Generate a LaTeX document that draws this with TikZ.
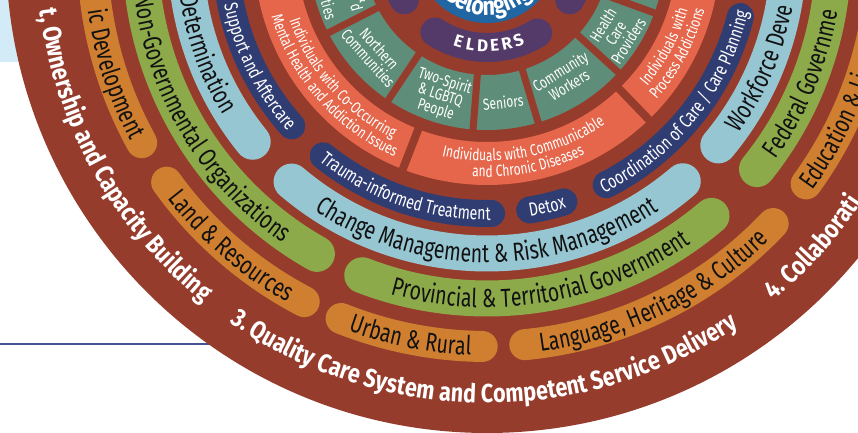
\documentclass[tikz,border=0pt]{standalone}
\usepackage{fontspec}
\usetikzlibrary{calc,decorations.text}
\newfontfamily\pillfam[FakeStretch=0.75]{Fira Sans}
\newfontfamily\headfam[FakeStretch=0.83]{Fira Sans}
\newfontfamily\plainfam{Fira Sans}
\newcommand\PillF{\pillfam\fontsize{26}{26}\selectfont}
\newcommand\NavyF{\pillfam\fontsize{19}{19}\selectfont}
\newcommand\SmallF{\pillfam\fontsize{16}{16}\selectfont}
\newcommand\OuterF{\headfam\bfseries\fontsize{26}{26}\selectfont}
\newcommand\BelongF{\headfam\bfseries\fontsize{26}{26}\selectfont}
\definecolor{ring}{HTML}{963C2C}
\definecolor{ochre}{HTML}{CF7F2F}
\definecolor{olive}{HTML}{8DAA4A}
\definecolor{sky}{HTML}{97C6D3}
\definecolor{navy}{HTML}{2F3D73}
\definecolor{coral}{HTML}{E5664A}
\definecolor{sage}{HTML}{5E8D79}
\definecolor{plum}{HTML}{533A68}
\definecolor{core}{HTML}{1F66A3}
\definecolor{skyband}{HTML}{D3EBF7}
\definecolor{rule}{HTML}{44528E}
\definecolor{ink}{HTML}{111111}
% rounded band segment: colour, width, radius, start angle, end angle
\newcommand\PillArc[5]{\draw[draw=#1,line width=#2,line cap=round]
  ($(C)+(#4:#3)$) arc[start angle=#4,end angle=#5,radius=#3];}
% text set along a circular arc: align, colour, font, radius, from, to, text
\newcommand\ArcTxt[7]{\path[decorate,decoration={text along path,
  text align=#1,text color=#2,text={|#3|#7}}]
  ($(C)+(#5:#4)$) arc[start angle=#5,end angle=#6,radius=#4];}
% radial separator between sectors
\newcommand\Sep[4]{\draw[draw=ring,line width=#4]
  ($(C)+(#1:#2)$) -- ($(C)+(#1:#3)$);}
\begin{document}
\begin{tikzpicture}[x=1pt,y=1pt,
  sagetxt/.style={text=white,font=\pillfam\fontsize{16}{15}\selectfont,
    align=center,inner sep=0pt},
  eldtxt/.style={text=white,font=\plainfam\bfseries\fontsize{17}{17}\selectfont,
    inner sep=0pt}]
\useasboundingbox (0,0) rectangle (858,433);
\clip (0,0) rectangle (858,433);
\fill[skyband] (0,371) rectangle (858,433);
\coordinate (C) at (487,481);
\coordinate (L0) at (0,89);
\coordinate (L1) at (260,89);
\draw[rule,line width=1.2pt] (L0) -- (L1);

% outer disc
\fill[ring] (C) circle[radius=481];

% outer ring of pills
\PillArc{ochre}{31}{394.5}{150}{208.9}
\PillArc{ochre}{31}{394.5}{215.7}{242.4}
\PillArc{ochre}{31}{394.5}{248.3}{269.3}
\PillArc{ochre}{31}{394.5}{275.5}{316.5}
\PillArc{ochre}{31}{394.5}{324.0}{400}

\PillArc{olive}{36}{346.5}{150}{240.6}
\PillArc{olive}{36}{346.5}{248.9}{310.4}
\PillArc{olive}{36}{346.5}{321.2}{400}

\PillArc{sky}{36}{301.5}{140}{219.0}
\PillArc{sky}{36}{301.5}{229.6}{310.5}
\PillArc{sky}{36}{301.5}{320.1}{400}

\PillArc{navy}{27}{261.5}{140}{221.7}
\PillArc{navy}{27}{261.5}{231.2}{271.0}
\PillArc{navy}{27}{261.5}{279.4}{287.1}
\PillArc{navy}{27}{261.5}{297.1}{345.7}

% coral sector ring
\draw[coral,line width=43] (C) circle[radius=211.5];
\Sep{248.8}{186}{237}{8}
\Sep{314}{186}{237}{8}

% sage sector ring
\draw[sage,line width=55] (C) circle[radius=150.5];
\foreach \a in {207,236.3,265.5,286.7,317.5,340}{\Sep{\a}{119}{182}{7}}

% inner pills and core
\PillArc{plum}{29}{95.5}{130}{210}
\PillArc{plum}{29}{95.5}{237}{302}
\PillArc{plum}{29}{95.5}{330}{410}
\fill[core] (C) circle[radius=71];

% outer headings
\ArcTxt{right}{white}{\OuterF}{451}{150}{231}{t, Ownership and Capacity Building}
\ArcTxt{center}{white}{\OuterF}{451}{219.55}{319.55}{3. Quality Care System and Competent Service Delivery}
\ArcTxt{left}{white}{\OuterF}{451}{309.4}{400}{4. Collaborati}

% orange labels
\ArcTxt{right}{ink}{\PillF}{403.5}{130}{207.9}{ic Development}
\ArcTxt{center}{ink}{\PillF}{403.5}{189}{269}{Land {\&} Resources}
\ArcTxt{center}{ink}{\PillF}{403.5}{218.8}{298.8}{Urban {\&} Rural}
\ArcTxt{center}{ink}{\PillF}{403.5}{246}{346}{Language, Heritage {\&} Culture}
\ArcTxt{left}{ink}{\PillF}{403.5}{323.7}{400}{Education {\&} Li}

% green labels
\ArcTxt{right}{ink}{\PillF}{355.5}{130}{235}{Non-Governmental Organizations}
\ArcTxt{center}{ink}{\PillF}{355.5}{224.6}{334.6}{Provincial {\&} Territorial Government}
\ArcTxt{left}{ink}{\PillF}{355.5}{324.3}{400}{Federal Governme}

% light blue labels
\ArcTxt{right}{ink}{\PillF}{310.5}{130}{211.8}{Determination}
\ArcTxt{center}{ink}{\PillF}{310.5}{215}{325}{Change Management {\&} Risk Management}
\ArcTxt{left}{ink}{\PillF}{310.5}{324.2}{400}{Workforce Deve}

% navy labels
\ArcTxt{right}{white}{\NavyF}{268}{130}{222}{Support and Aftercare}
\ArcTxt{center}{white}{\NavyF}{268}{211}{291}{Trauma-informed Treatment}
\ArcTxt{center}{white}{\NavyF}{268}{263.25}{303.25}{Detox}
\ArcTxt{center}{white}{\NavyF}{268}{271.4}{371.4}{Coordination of Care / Care Planning}

% coral labels
\ArcTxt{right}{white}{\SmallF}{209}{150}{243.2}{Individuals with Co-Occurring}
\ArcTxt{right}{white}{\SmallF}{225}{150}{245.7}{Mental Health and Addiction Issues}
\ArcTxt{center}{white}{\SmallF}{209}{231}{331}{Individuals with Communicable}
\ArcTxt{center}{white}{\SmallF}{225}{231}{331}{and Chronic Diseases}
\ArcTxt{center}{white}{\SmallF}{209}{292}{372}{Individuals with}
\ArcTxt{center}{white}{\SmallF}{225}{292}{372}{Process Addictions}

% sage sector labels
\node[sagetxt,rotate=-74.5,anchor=base east] (tl1) at (326,412) {ities};
\node[sagetxt,rotate=-74.5,anchor=base east] (tl2) at (352,420) {d};
\node[sagetxt,rotate=-74.5,anchor=base east] (tl3) at (360,429) {\&};
\node[sagetxt,rotate=311.9] (north) at ($(C)+(221.9:152)$) {Northern\\Communities};
\node[sagetxt,rotate=-18] (twos) at ($(C)+(252:151)$) {Two-Spirit\\\& LGBTQ\\People};
\node[sagetxt,rotate=6.1] (seni) at ($(C)+(276.1:151)$) {Seniors};
\node[sagetxt,rotate=31.6] (cwork) at ($(C)+(301.6:148)$) {Community\\Workers};
\node[sagetxt,rotate=57.8] (hcare) at ($(C)+(327.8:152)$) {Health\\Care\\Providers};

% elders and core
\foreach \ch [count=\i] in {E,L,D,E,R,S}{
  \node[eldtxt,rotate={271+(\i-3.5)*7.4+90}] (eld\i) at ($(C)+({271+(\i-3.5)*7.4}:94)$) {\ch};}
\ArcTxt{center}{white}{\BelongF}{63}{231}{311}{Belonging}
\end{tikzpicture}
\end{document}
